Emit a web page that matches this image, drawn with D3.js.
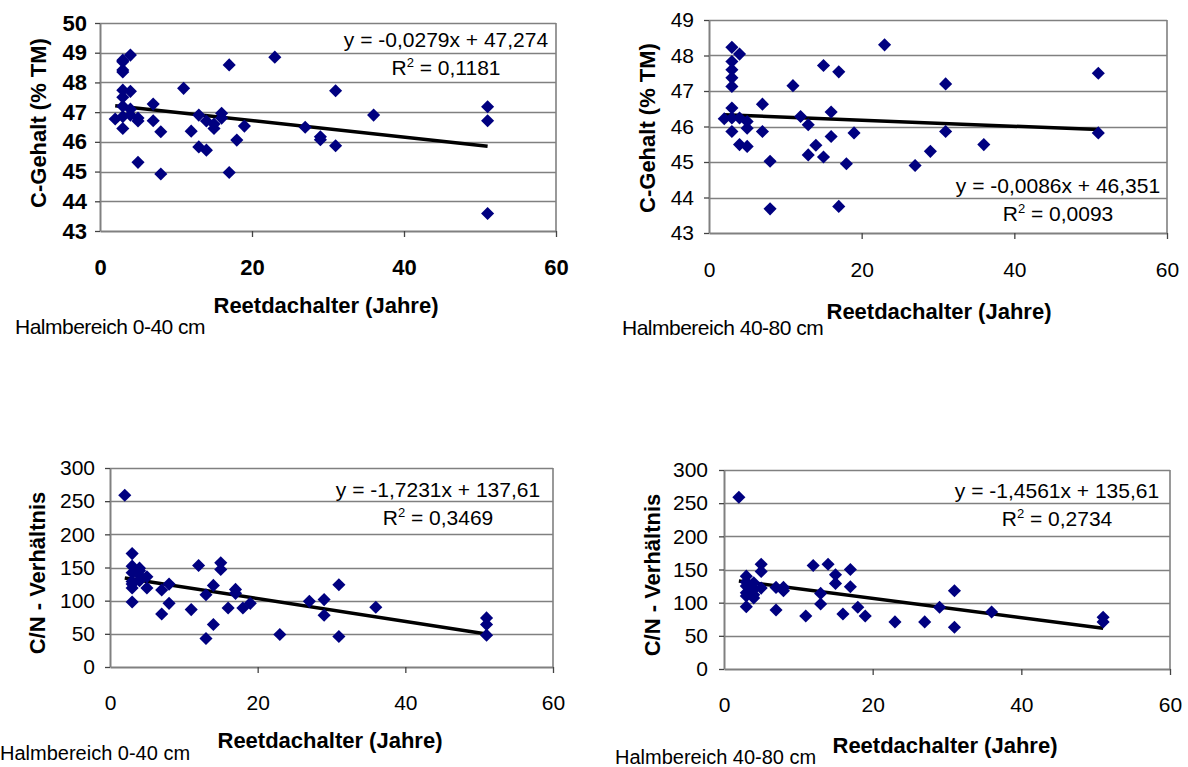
<!DOCTYPE html>
<html>
<head>
<meta charset="utf-8">
<script src="https://cdn.jsdelivr.net/npm/d3@7"></script>
<style>
  body { margin: 0; background: #fff; }
  svg { font-family: "Liberation Sans", Arial, sans-serif; }
</style>
</head>
<body>
<svg id="chart"></svg>
<script>
// Reetdachalter (Jahre) per sample, one array per panel
const ageC040 = [2, 3, 3, 3, 3, 3, 3, 3, 3, 3, 4, 4, 4, 4, 5, 5, 5, 7, 7, 8, 8, 11, 12, 13, 13, 14, 14, 15, 15, 16, 16, 17, 17, 18, 19, 23, 27, 29, 29, 31, 31, 36, 51, 51, 51];
const cGehalt040 = [46.77, 46.45, 46.85, 48.7, 48.42, 48.35, 48.75, 47.74, 47.5, 47.2, 48.92, 47.7, 47.1, 46.9, 46.8, 46.7, 45.31, 47.27, 46.71, 46.34, 44.92, 47.8, 46.36, 46.9, 45.83, 46.7, 45.72, 46.45, 46.6, 46.96, 46.8, 48.59, 44.97, 46.06, 46.53, 48.85, 46.49, 46.17, 46.07, 45.87, 47.72, 46.9, 47.18, 46.71, 43.59];

const ageC4080 = [2, 3, 3, 3, 3, 3, 3, 3, 3, 4, 4, 4, 5, 5, 5, 7, 7, 8, 8, 11, 12, 13, 13, 14, 15, 15, 16, 16, 17, 17, 18, 19, 23, 27, 29, 31, 31, 36, 51, 51];
const cGehalt4080 = [46.22, 48.23, 47.83, 47.6, 47.37, 47.13, 46.52, 46.24, 45.86, 48.04, 45.49, 46.24, 46.14, 45.95, 45.44, 46.63, 45.86, 45.02, 43.68, 47.15, 46.28, 46.05, 45.2, 45.47, 47.72, 45.14, 46.41, 45.72, 47.54, 43.75, 44.95, 45.82, 48.3, 44.9, 45.3, 47.2, 45.86, 45.49, 47.5, 45.82];

const ageCN040 = [2, 3, 3, 3, 3, 3, 3, 3, 4, 4, 4, 4, 5, 5, 7, 7, 8, 8, 11, 12, 13, 13, 14, 14, 15, 15, 16, 17, 17, 18, 19, 23, 27, 29, 29, 31, 31, 36, 51, 51, 51];
const cn040 = [259, 171, 152, 142, 129, 125, 119, 98, 149, 145, 138, 130, 136, 119, 116, 80, 125, 96, 86.5, 153, 109, 43, 123, 64, 157, 147, 89, 117, 111, 89, 96, 49, 99, 101.6, 78, 124, 46, 90, 74, 64, 48];

const ageCN4080 = [2, 3, 3, 3, 3, 3, 3, 4, 4, 4, 4, 5, 5, 5, 7, 7, 8, 8, 11, 12, 13, 13, 14, 15, 15, 16, 17, 17, 18, 19, 23, 27, 29, 31, 31, 36, 51, 51];
const cn4080 = [259, 140, 131, 125, 115, 110, 94, 120, 112, 107, 130, 158, 147, 122, 123, 89, 123, 118, 80, 156, 114, 98, 158, 142, 129, 83, 150, 124, 93, 80, 71, 71, 93, 118, 63, 86, 78, 71];

// linear trend: slope, intercept, R²
const trendC040 = [-0.0279, 47.274, 0.1181];
const trendC4080 = [-0.0086, 46.351, 0.0093];
const trendCN040 = [-1.7231, 137.61, 0.3469];
const trendCN4080 = [-1.4561, 135.61, 0.2734];

const xTicks = [0, 20, 40, 60];
const cTicks040 = [43, 44, 45, 46, 47, 48, 49, 50];
const cTicks4080 = [43, 44, 45, 46, 47, 48, 49];
const cnTicks = [0, 50, 100, 150, 200, 250, 300];

const X_TITLE = "Reetdachalter (Jahre)";

const WIDTH = 1188;
const HEIGHT = 767;

const MARKER = "#000080";
const GRID = "#808080";

const svg = d3.select("#chart").attr("width", WIDTH).attr("height", HEIGHT);

const fmt = (v, digits) => v.toFixed(digits).replace(".", ",");

function drawPanel(p) {
  const xScale = d3.scaleLinear().domain([0, 60]).range([p.left, p.right]);
  const yScale = d3.scaleLinear().domain(d3.extent(p.yTicks)).range([p.bottom, p.top]);
  const g = svg.append("g");
  const weight = p.boldTicks ? "bold" : "normal";

  // grid lines
  g.selectAll(".grid")
    .data(p.yTicks.slice(1))
    .join("line")
    .attr("x1", p.left)
    .attr("x2", p.right)
    .attr("y1", (d) => Math.round(yScale(d)) + 0.5)
    .attr("y2", (d) => Math.round(yScale(d)) + 0.5)
    .attr("stroke", GRID)
    .attr("stroke-width", 1.4);

  // right border
  g.append("line")
    .attr("x1", p.right).attr("x2", p.right)
    .attr("y1", p.top).attr("y2", p.bottom)
    .attr("stroke", GRID).attr("stroke-width", 1.6);

  const yAxis = d3.axisLeft(yScale).tickValues(p.yTicks).tickFormat(d3.format("d"))
    .tickSize(5).tickPadding(p.yPad).tickSizeOuter(0);
  const xAxis = d3.axisBottom(xScale).tickValues(xTicks).tickFormat(d3.format("d"))
    .tickSize(6).tickPadding(p.xPad).tickSizeOuter(0);

  const ya = g.append("g").attr("transform", `translate(${p.left},0)`).call(yAxis);
  const xa = g.append("g").attr("transform", `translate(0,${p.bottom})`).call(xAxis);
  [ya, xa].forEach((a) => {
    a.select(".domain").attr("stroke", GRID).attr("stroke-width", 2);
    a.selectAll(".tick line").attr("stroke", "#444").attr("stroke-width", 1.3);
    a.selectAll(".tick text")
      .attr("fill", "#000")
      .style("font-size", p.boldTicks ? "22px" : "21px")
      .style("font-weight", weight)
      .style("font-family", "'Liberation Sans', Arial, sans-serif");
  });
  xa.selectAll(".tick").filter((d) => d === 0).select("line").remove();

  // trend line through the fitted equation
  const [slope, intercept, r2] = p.trend;
  const [xMin, xMax] = d3.extent(p.xs);
  g.append("line")
    .attr("x1", xScale(xMin))
    .attr("y1", yScale(slope * xMin + intercept))
    .attr("x2", xScale(xMax))
    .attr("y2", yScale(slope * xMax + intercept))
    .attr("stroke", "#000")
    .attr("stroke-width", 3.5);

  // diamonds
  const diamond = d3.symbol().type(d3.symbolSquare).size(86);
  g.selectAll(".pt")
    .data(p.xs.map((x, i) => [x, p.ys[i]]))
    .join("path")
    .attr("d", diamond)
    .attr("fill", MARKER)
    .attr("transform", (d) => `translate(${xScale(d[0])},${yScale(d[1])}) rotate(45)`);

  // trend label
  const eq = `y = ${fmt(slope, 4)}x + ${fmt(intercept, p.interceptDigits)}`;
  g.append("text")
    .attr("x", p.eqX).attr("y", p.eqY)
    .attr("text-anchor", "middle")
    .style("font-size", "21px")
    .text(eq);
  const r = g.append("text")
    .attr("x", p.eqX).attr("y", p.eqY + 28)
    .attr("text-anchor", "middle")
    .style("font-size", "21px");
  r.append("tspan").text("R");
  r.append("tspan").attr("dy", -8).style("font-size", "13px").text("2");
  r.append("tspan").attr("dy", 8).text(` = ${fmt(r2, 4)}`);

  // axis titles
  g.append("text")
    .attr("transform", `translate(${p.yTitleX},${p.yTitleY}) rotate(-90)`)
    .attr("text-anchor", "middle")
    .attr("dominant-baseline", "central")
    .style("font-size", "22px")
    .style("font-weight", "bold")
    .text(p.yTitle);
  g.append("text")
    .attr("x", p.xTitleX).attr("y", p.xTitleY)
    .attr("text-anchor", "middle")
    .attr("dominant-baseline", "central")
    .style("font-size", "22px")
    .style("font-weight", "bold")
    .text(X_TITLE);
  g.append("text")
    .attr("x", p.noteX).attr("y", p.noteY)
    .attr("dominant-baseline", "central")
    .style("font-size", p.noteSize)
    .style("letter-spacing", p.noteSpacing)
    .text(p.note);
}

drawPanel({
  xs: ageC040, ys: cGehalt040, trend: trendC040, interceptDigits: 3,
  yTicks: cTicks040, boldTicks: true,
  left: 100, right: 556, top: 23, bottom: 231, yPad: 8, xPad: 22,
  eqX: 446, eqY: 47,
  yTitle: "C-Gehalt (% TM)", yTitleX: 38, yTitleY: 123,
  xTitleX: 326, xTitleY: 305,
  note: "Halmbereich 0-40 cm", noteX: 15, noteY: 326, noteSize: "21px", noteSpacing: "-0.5px",
});

drawPanel({
  xs: ageC4080, ys: cGehalt4080, trend: trendC4080, interceptDigits: 3,
  yTicks: cTicks4080, boldTicks: false,
  left: 709, right: 1167, top: 20, bottom: 233, yPad: 10, xPad: 23,
  eqX: 1058, eqY: 193,
  yTitle: "C-Gehalt (% TM)", yTitleX: 647, yTitleY: 128,
  xTitleX: 939, xTitleY: 311,
  note: "Halmbereich 40-80 cm", noteX: 622, noteY: 327, noteSize: "21px", noteSpacing: "-0.5px",
});

drawPanel({
  xs: ageCN040, ys: cn040, trend: trendCN040, interceptDigits: 2,
  yTicks: cnTicks, boldTicks: false,
  left: 110, right: 553, top: 468, bottom: 667, yPad: 10, xPad: 22,
  eqX: 438, eqY: 497,
  yTitle: "C/N - Verhältnis", yTitleX: 37, yTitleY: 573,
  xTitleX: 330, xTitleY: 740,
  note: "Halmbereich 0-40 cm", noteX: 0, noteY: 753, noteSize: "20px", noteSpacing: "0px",
});

drawPanel({
  xs: ageCN4080, ys: cn4080, trend: trendCN4080, interceptDigits: 2,
  yTicks: cnTicks, boldTicks: false,
  left: 724, right: 1170, top: 470, bottom: 669, yPad: 11, xPad: 22,
  eqX: 1057, eqY: 498,
  yTitle: "C/N - Verhältnis", yTitleX: 652, yTitleY: 575,
  xTitleX: 945, xTitleY: 745,
  note: "Halmbereich 40-80 cm", noteX: 615, noteY: 757, noteSize: "20px", noteSpacing: "0px",
});
</script>
</body>
</html>
